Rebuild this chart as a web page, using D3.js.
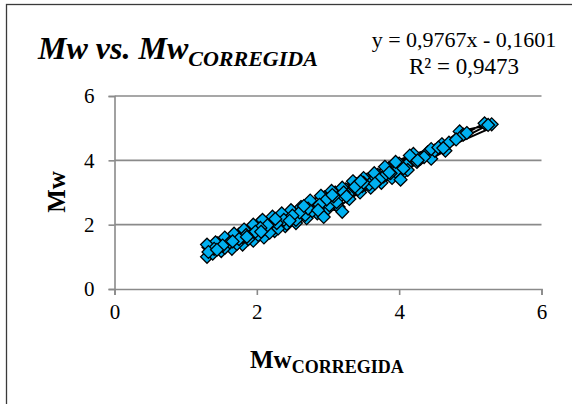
<!DOCTYPE html>
<html><head><meta charset="utf-8">
<script src="https://cdn.jsdelivr.net/npm/d3@7"></script>
<style>
html,body{margin:0;padding:0;background:#fff;}
svg{display:block;}
text{font-family:"Liberation Serif","Times New Roman",serif !important;}
</style></head>
<body>
<script>
// Data (Mw_CORREGIDA, Mw), in series order
const mwCorregida = [
1.32,1.45,1.60,1.75,1.90,2.05,2.20,2.35,2.50,2.65,2.80,2.95,3.10,3.25,3.40,3.55,3.70,3.85,4.00,4.20,4.40,4.60,4.85,5.30,
5.20,4.90,4.65,4.45,4.25,4.05,3.90,3.75,3.60,3.45,3.30,3.15,3.20,3.00,2.85,2.70,2.55,2.40,2.25,2.10,1.95,1.80,1.65,1.50,1.30,
1.35,1.48,1.58,1.70,1.82,1.92,2.00,2.12,2.22,2.32,2.45,2.58,2.70,2.82,2.92,3.05,3.18,3.32,3.48,3.62,3.78,3.95,4.10,4.30,4.50,4.70,4.95,
4.80,4.45,4.15,3.95,3.80,3.65,3.50,3.35,3.20,3.05,2.90,2.75,2.62,2.48,2.35,2.22,2.08,1.95,1.82,1.68,1.55,1.42,1.30,
1.38,1.55,1.72,1.88,2.02,2.18,2.30,2.42,2.55,2.68,2.78,2.94,3.02,3.12,3.28,3.42,3.58,3.72,3.88,4.02,4.12,4.35,4.55,
3.50,3.38,3.22,3.08,2.98,2.88,2.72,2.60,2.50,2.38,2.28,2.15,2.05,1.98,1.85,1.75,1.62,1.52,1.40,1.32,
1.44,1.66,1.86,2.06,2.26,2.46,2.66,2.86,3.06,3.26,3.46,3.66,3.86,4.06,4.26,4.62,5.25
];
const mw = [
1.30,1.42,1.50,1.70,1.80,2.08,2.12,2.25,2.40,2.45,2.62,2.85,3.00,3.10,3.25,3.40,3.55,3.75,3.90,4.20,4.25,4.50,4.90,5.12,
5.15,4.80,4.30,4.05,3.95,3.60,3.45,3.30,3.15,3.00,2.80,2.55,2.40,2.50,2.35,2.20,2.05,1.95,1.80,1.60,1.50,1.38,1.25,1.18,1.00,
1.18,1.32,1.38,1.55,1.62,1.70,1.85,1.90,2.00,2.10,2.20,2.30,2.40,2.55,2.65,2.75,2.90,3.05,3.20,3.35,3.50,3.65,3.85,4.05,4.30,4.55,4.85,
4.65,4.35,4.15,3.95,3.80,3.60,3.45,3.35,3.15,3.05,2.90,2.75,2.55,2.45,2.35,2.25,2.15,2.00,1.85,1.72,1.60,1.45,1.38,
1.10,1.28,1.40,1.55,1.68,1.75,1.88,2.02,2.15,2.30,2.42,2.24,2.60,2.70,2.95,3.10,3.25,3.40,3.60,3.40,3.70,4.10,4.40,
3.30,3.18,3.00,2.88,2.78,2.62,2.50,2.38,2.28,2.15,2.05,1.98,1.90,1.78,1.68,1.55,1.45,1.35,1.25,1.15,
1.22,1.48,1.62,1.78,2.18,2.12,2.58,2.45,2.92,2.88,3.35,3.28,3.62,3.75,4.00,4.38,5.10
];
const xTicks = [0,2,4,6];
const yTicks = [0,2,4,6];
const slope = 0.9767, intercept = -0.1601;
const eqLine1 = "y = 0,9767x - 0,1601";
const eqLine2 = "R² = 0,9473";

const W = 572, H = 404;
const FONT = '"Liberation Serif", "Times New Roman", serif';
const svg = d3.select("body").append("svg").attr("width", W).attr("height", H)
  .attr("font-family", FONT);

// outer chart border (right/bottom edges fall outside the picture)
svg.append("rect").attr("x", 6.5).attr("y", 4.5).attr("width", 620).attr("height", 440)
  .attr("fill", "#fff").attr("stroke", "#3a3a3a").attr("stroke-width", 1.3);

const x = d3.scaleLinear().domain([0, 6]).range([114.5, 541.5]);
const y = d3.scaleLinear().domain([0, 6]).range([289, 96]);
const grey = "#8a8a8a";

// gridlines
svg.append("g").selectAll("line").data(yTicks.filter(d => d > 0)).join("line")
  .attr("x1", x(0)).attr("x2", x(6)).attr("y1", d => y(d)).attr("y2", d => y(d))
  .attr("stroke", grey).attr("stroke-width", 1.6);

// axes
const xAxis = svg.append("g").attr("transform", `translate(0,${y(0)})`)
  .call(d3.axisBottom(x).tickValues(xTicks).tickSizeOuter(0).tickSize(6).tickPadding(9).tickFormat(d3.format("d")));
const yAxis = svg.append("g").attr("transform", `translate(${x(0)},0)`)
  .call(d3.axisLeft(y).tickValues(yTicks).tickSizeOuter(0).tickSize(6).tickPadding(14).tickFormat(d3.format("d")));
[xAxis, yAxis].forEach(g => {
  g.attr("font-family", FONT).attr("font-size", 21);
  g.select(".domain").attr("stroke", grey).attr("stroke-width", 1.6);
  g.selectAll(".tick line").attr("stroke", grey).attr("stroke-width", 1.6);
  g.selectAll(".tick text").attr("fill", "#000");
});

// series line connecting points
const pts = mwCorregida.map((v, i) => [v, mw[i]]);
svg.append("path").datum(pts)
  .attr("d", d3.line().x(d => x(d[0])).y(d => y(d[1])))
  .attr("fill", "none").attr("stroke", "#000").attr("stroke-width", 2);

// trendline
const xmin = d3.min(mwCorregida), xmax = d3.max(mwCorregida);
svg.append("line")
  .attr("x1", x(xmin)).attr("y1", y(slope * xmin + intercept))
  .attr("x2", x(xmax)).attr("y2", y(slope * xmax + intercept))
  .attr("stroke", "#000").attr("stroke-width", 2);

// markers
const sym = d3.symbol().type(d3.symbolDiamond2).size(105);
svg.append("g").selectAll("path").data(pts).join("path")
  .attr("transform", d => `translate(${x(d[0])},${y(d[1])})`)
  .attr("d", sym)
  .attr("fill", "#00B0F0").attr("stroke", "#000").attr("stroke-width", 1.3);

// title
const t = svg.append("text").attr("x", 38).attr("y", 59)
  .style("font-weight", "bold").style("font-style", "italic").style("font-size", "32px");
t.append("tspan").text("Mw vs. Mw");
t.append("tspan").attr("dy", 7).style("font-size", "22px").text("CORREGIDA");

// trendline label
svg.append("text").attr("x", 464).attr("y", 47).attr("text-anchor", "middle")
  .style("font-size", "22px").text(eqLine1);
svg.append("text").attr("x", 464).attr("y", 74).attr("text-anchor", "middle")
  .style("font-size", "23px").text(eqLine2);

// x axis title
const xt = svg.append("text").attr("x", 250).attr("y", 368)
  .style("font-weight", "bold").style("font-size", "25px");
xt.append("tspan").text("Mw");
xt.append("tspan").attr("dy", 5).style("font-size", "18px").text("CORREGIDA");

// y axis title
svg.append("text").attr("transform", "translate(65,192) rotate(-90)")
  .attr("text-anchor", "middle").style("font-weight", "bold").style("font-size", "25px").text("Mw");
</script>
</body></html>
